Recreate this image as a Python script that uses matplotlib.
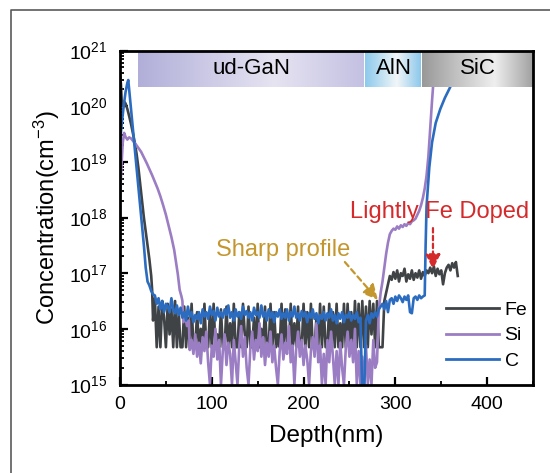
import numpy as np
import matplotlib
matplotlib.use("Agg")
import matplotlib.pyplot as plt
from matplotlib.colors import LinearSegmentedColormap
from matplotlib.lines import Line2D
from matplotlib.ticker import MultipleLocator, LogLocator, NullFormatter

plt.rcParams['font.family'] = ['Liberation Sans', 'DejaVu Sans']
plt.rcParams['mathtext.fontset'] = 'custom'
plt.rcParams['mathtext.rm'] = 'Liberation Sans'
plt.rcParams['mathtext.it'] = 'Liberation Sans:italic'
plt.rcParams['mathtext.bf'] = 'Liberation Sans:bold'
plt.rcParams['mathtext.default'] = 'regular'

# ---- SIMS depth profiles: depth in nm, concentration as log10(cm^-3) ----
floor_depth = np.arange(38, 288, 2)      # sampling depths through the ud-GaN floor
si_floor_depth = np.arange(76, 282, 2)

fe_head_depth = [0, 1, 2, 3, 4.5, 6, 8, 10, 12, 14, 16, 18, 20, 22, 24, 26, 28, 30, 32, 34, 35, 36]
fe_head_log = [20.55, 20.40, 20.05, 20.00, 20.08, 20.05, 19.95, 19.82, 19.68, 19.52, 19.35,
               19.15, 18.90, 18.60, 18.30, 18.00, 17.75, 17.50, 17.25, 16.95, 16.70, 16.15]
fe_floor_log = [
    16.55, 15.67, 16.40, 15.67, 16.50, 16.20, 15.67, 16.45, 15.90, 16.35,
    15.67, 16.50, 15.67, 16.30, 15.67, 15.67, 16.40, 15.67, 16.20, 15.67,
    16.45, 15.67, 15.67, 16.30, 15.67, 16.00, 15.67, 16.45, 15.67, 15.67,
    16.30, 15.67, 16.45, 15.67, 15.90, 15.67, 16.35, 15.67, 15.67, 16.40,
    15.67, 16.10, 15.67, 16.45, 15.67, 15.67, 16.30, 15.67, 16.45, 15.90,
    15.67, 16.40, 15.67, 15.67, 16.20, 15.67, 16.45, 15.67, 16.00, 15.67,
    16.40, 15.67, 15.67, 16.45, 15.67, 16.30, 15.67, 15.90, 15.67, 16.45,
    15.67, 16.35, 15.67, 15.67, 16.45, 15.67, 16.10, 15.67, 16.40, 15.67,
    15.67, 16.45, 15.67, 16.30, 15.67, 16.45, 15.67, 15.67, 16.20, 15.67,
    16.45, 15.67, 16.40, 15.67, 15.67, 16.45, 15.67, 16.30, 15.67, 16.45,
    15.67, 16.10, 15.67, 16.45, 15.67, 16.45, 15.67, 16.30, 15.67, 16.50,
    15.67, 16.45, 15.67, 16.50, 15.67, 16.40, 15.67, 16.50, 15.90, 16.45,
    15.67, 16.50, 15.67, 15.67, 15.67]
fe_tail_depth = np.arange(288, 370, 2)
fe_tail_log = [
    16.50, 16.65, 16.80, 16.95, 16.88, 17.02, 16.90, 17.05, 16.85, 17.00,
    16.95, 17.08, 16.85, 16.98, 16.90, 17.05, 16.88, 17.00, 16.92, 17.05,
    16.90, 17.02, 16.95, 17.05, 17.00, 17.10, 17.00, 17.12, 16.95, 17.08,
    16.98, 17.05, 16.80, 17.00, 17.10, 17.15, 17.05, 17.18, 17.10, 17.20,
    16.95]

si_head_depth = [0, 1.5, 3, 4.5, 6, 8, 10, 12, 14, 17, 20, 23, 26, 29, 32, 35, 38, 41, 44, 47,
                 50, 53, 56, 59, 61, 63, 65, 67, 68, 69, 71, 73, 75]
si_head_log = [18.35, 18.90, 19.35, 19.52, 19.45, 19.40, 19.44, 19.42, 19.38, 19.32,
               19.25, 19.18, 19.08, 18.98, 18.87, 18.76, 18.64, 18.52, 18.38, 18.22,
               18.05, 17.85, 17.65, 17.42, 17.20, 16.98, 16.70, 16.58, 16.50, 16.12,
               16.22, 16.05, 16.15]
si_floor_log = [
    15.62, 15.80, 15.55, 15.90, 15.50, 15.75, 15.38, 15.85, 15.60, 15.95,
    15.40, 15.00, 15.70, 15.50, 16.00, 15.45, 15.80, 15.00, 15.60, 15.90,
    15.35, 15.75, 15.55, 15.00, 15.80, 15.40, 15.00, 15.70, 16.05, 15.50,
    15.85, 15.30, 15.00, 15.65, 15.95, 15.45, 15.80, 15.60, 16.10, 15.50,
    15.85, 15.35, 15.75, 15.50, 15.95, 15.40, 15.70, 15.30, 15.00, 15.60,
    15.90, 15.45, 15.75, 15.55, 16.05, 15.40, 15.70, 15.00, 15.65, 15.95,
    15.50, 15.80, 15.35, 15.70, 15.45, 15.00, 15.60, 15.85, 15.50, 16.10,
    15.40, 15.70, 15.00, 15.55, 15.00, 15.80, 15.40, 15.95, 15.50, 15.00,
    15.60, 15.00, 15.75, 15.30, 15.00, 15.65, 15.95, 15.50, 15.80, 15.40,
    16.00, 15.00, 15.60, 15.00, 15.50, 15.00, 15.70, 15.00, 15.45, 15.00,
    15.80, 15.30, 15.40]
si_tail_depth = [282, 284, 286, 288, 290, 292, 294, 296, 298, 300, 302, 304, 306, 308, 310, 312,
                 314, 316, 318, 320, 322, 324, 326, 328, 330, 332, 334, 336, 338, 340, 342, 344, 346]
si_tail_log = [16.35, 16.65, 16.85, 17.10, 17.35, 17.55, 17.70, 17.76, 17.80, 17.78, 17.84,
               17.80, 17.86, 17.83, 17.88, 17.85, 17.90, 17.88, 17.93, 17.95, 17.98, 18.05,
               18.12, 18.22, 18.35, 18.52, 18.75, 19.10, 19.60, 20.10, 20.55, 21.00, 21.40]

c_head_depth = [0, 2, 4, 6, 8, 9, 10, 12, 14, 16, 18, 20, 22, 24, 26, 28, 30, 32, 34, 36]
c_head_log = [19.36, 19.70, 20.00, 20.25, 20.42, 20.47, 20.30, 19.95, 19.60, 19.25,
              18.90, 18.55, 18.20, 17.85, 17.50, 17.10, 16.85, 16.78, 16.68, 16.62]
c_floor_log = [
    16.60, 16.45, 16.55, 16.35, 16.50, 16.30, 16.45, 16.40, 16.30, 16.55,
    16.35, 16.28, 16.42, 16.25, 16.38, 16.20, 16.30, 16.15, 16.40, 16.22,
    16.30, 16.12, 16.25, 16.18, 16.30, 16.10, 16.35, 16.22, 16.30, 16.18,
    16.40, 16.25, 16.32, 16.15, 16.38, 16.22, 16.30, 16.20, 16.35, 16.25,
    16.42, 16.20, 16.30, 16.15, 16.35, 16.22, 16.30, 16.18, 16.40, 16.25,
    16.32, 16.20, 16.30, 16.15, 16.38, 16.25, 16.30, 16.20, 16.42, 16.22,
    16.30, 16.15, 16.35, 16.20, 16.30, 16.12, 16.30, 16.22, 16.35, 16.18,
    16.28, 16.20, 16.35, 16.15, 16.30, 16.22, 16.40, 16.20, 16.28, 16.15,
    16.32, 16.22, 16.30, 16.12, 16.28, 16.20, 16.35, 16.18, 16.28, 16.10,
    16.25, 16.18, 16.30, 16.15, 16.28, 16.20, 16.35, 16.15, 16.25, 16.10,
    16.28, 16.18, 16.30, 16.12, 16.25, 16.20, 16.30, 16.15, 16.25, 16.18,
    16.30, 16.12, 16.20, 14.80, 14.80, 16.15, 16.25, 16.10, 16.28, 16.20,
    16.30, 16.22, 16.35, 16.40, 16.45]
c_tail_depth = [288, 290, 292, 294, 296, 298, 300, 302, 304, 306, 308, 310, 312, 314, 316, 318,
                320, 322, 324, 326, 328, 330, 332, 333, 334, 337, 340, 344, 349, 354, 360, 364,
                368, 372]
c_tail_log = [16.35, 16.50, 16.30, 16.52, 16.55, 16.45, 16.58, 16.50, 16.60, 16.55,
              16.48, 16.58, 16.52, 16.60, 16.30, 16.28, 16.55, 16.58, 16.52, 16.60,
              16.55, 16.58, 16.60, 17.50, 18.20, 18.90, 19.35, 19.70, 19.95, 20.15,
              20.35, 20.60, 21.00, 21.30]

series_names = ['Fe', 'Si', 'C']
series_colors = ['#404345', '#9b7dc4', '#2b6cc0']

# layer stack shown along the top: (name, start nm, end nm, gradient stops)
layer_names = ['ud-GaN', 'AlN', 'SiC']
layer_bounds = [(20, 267), (267, 329), (329, 450)]
layer_stops = [
    [(0.0, '#b1afd9'), (0.6, '#e6e4f1'), (1.0, '#c3c0e2')],
    [(0.0, '#8dcaec'), (0.55, '#f2f6f8'), (1.0, '#86c5ea')],
    [(0.0, '#999999'), (0.65, '#efefef'), (1.0, '#a0a0a0')],
]

x_ticks = [0, 100, 200, 300, 400]

# ---- figure ----
fig = plt.figure(figsize=(5.5, 4.73), dpi=100)
ax = fig.add_axes([0.2182, 0.1871, 0.7509, 0.7061])

profiles = {
    'Fe': (np.concatenate([fe_head_depth, floor_depth, fe_tail_depth]),
           np.concatenate([fe_head_log, fe_floor_log, fe_tail_log])),
    'Si': (np.concatenate([si_head_depth, si_floor_depth, si_tail_depth]),
           np.concatenate([si_head_log, si_floor_log, si_tail_log])),
    'C': (np.concatenate([c_head_depth, floor_depth, c_tail_depth]),
          np.concatenate([c_head_log, c_floor_log, c_tail_log])),
}

for name, color in zip(series_names, series_colors):
    d, lg = profiles[name]
    ax.plot(d, 10.0 ** lg, color=color, lw=1.9, label=name, zorder=3)

ax.set_yscale('log')

# gradient layer bar
band_bottom = 0.892
for name, (x0, x1), stops in zip(layer_names, layer_bounds, layer_stops):
    cmap = LinearSegmentedColormap.from_list(name, stops)
    grad = np.linspace(0, 1, 256)[None, :]
    ax.imshow(grad, cmap=cmap, extent=(x0, x1, band_bottom, 1.0),
              transform=ax.get_xaxis_transform(), aspect='auto',
              interpolation='bilinear', zorder=4)
    ax.text((x0 + x1) / 2, (band_bottom + 1.0) / 2, name,
            transform=ax.get_xaxis_transform(), ha='center', va='center',
            fontsize=16, color='black', zorder=5)
ax.set_xlim(0, 450)
ax.set_ylim(1e15, 1e21)

# axes styling
for sp in ax.spines.values():
    sp.set_linewidth(2.0)
    sp.set_zorder(6)
ax.xaxis.set_minor_locator(MultipleLocator(50))
ax.set_xticks(x_ticks)
ax.yaxis.set_major_locator(LogLocator(base=10, numticks=10))
ax.yaxis.set_minor_locator(LogLocator(base=10, subs=np.arange(2, 10), numticks=20))
ax.yaxis.set_minor_formatter(NullFormatter())
ax.tick_params(which='both', direction='in', top=False, right=False)
ax.tick_params(which='major', length=5.5, width=1.6)
ax.tick_params(which='minor', length=3.0, width=1.3)
ax.tick_params(axis='x', labelsize=14, pad=8)
ax.tick_params(axis='y', labelsize=14, pad=9)

ax.set_xlabel('Depth(nm)', fontsize=17.5, labelpad=9)
ax.set_ylabel('Concentration(cm$^{-3}$)', fontsize=17, labelpad=5)

# annotations
gold = '#c4972e'
red = '#d42a2b'
ax.text(178, 10 ** 17.30, 'Sharp profile', color=gold, fontsize=17,
        ha='center', va='baseline', zorder=5)
ax.annotate('', xy=(281, 10 ** 16.52), xytext=(245, 10 ** 17.2),
            arrowprops=dict(arrowstyle='-|>,head_length=0.9,head_width=0.45',
                            color=gold, lw=1.6, ls=(0, (2.5, 1.8)),
                            shrinkA=0, shrinkB=0), zorder=5)
ax.text(348, 10 ** 17.99, 'Lightly Fe Doped', color=red, fontsize=17,
        ha='center', va='baseline', zorder=5)
ax.annotate('', xy=(341, 10 ** 17.07), xytext=(341, 10 ** 17.81),
            arrowprops=dict(arrowstyle='-|>,head_length=0.9,head_width=0.45',
                            color=red, lw=1.6, ls=(0, (2.0, 1.5)),
                            shrinkA=0, shrinkB=0), zorder=5)

leg = ax.legend(loc='upper left', bbox_to_anchor=(0.79, 0.25), frameon=False,
                fontsize=14, handlelength=2.7, handletextpad=0.3, labelspacing=0.42,
                borderpad=0, borderaxespad=0)
for h in leg.get_lines():
    h.set_linewidth(2.0)

# outer frame
fx, fy = 10.5 / 550, 1 - 10.5 / 473
fig.add_artist(Line2D([fx, fx, 1.0], [0.0, fy, fy], transform=fig.transFigure,
                      color='#5a5a5a', lw=1.2))

fig.savefig('out.png', dpi=100)
